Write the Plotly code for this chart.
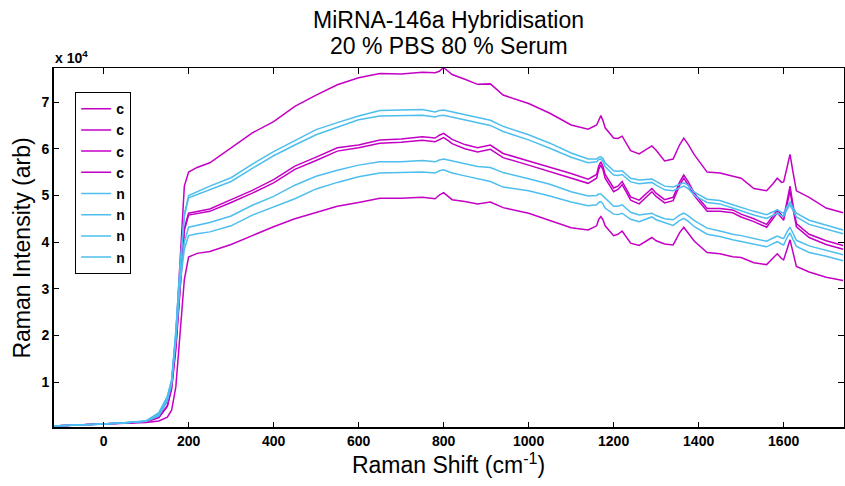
import plotly.graph_objects as go

# Raman shift (cm^-1) sample positions
shift = [-120, -50, 0, 50, 100, 130, 150, 160, 170, 180, 190, 200, 220, 250, 300, 350, 400, 450,
         500, 550, 600, 650, 700, 750, 780, 790, 800, 810, 820, 850, 880, 910, 940, 1000, 1050, 1100, 1140,
         1160, 1165, 1170, 1175, 1180, 1200, 1210, 1220, 1230, 1240, 1260, 1280, 1290, 1300, 1320, 1340,
         1355, 1365, 1375, 1390, 1420, 1450, 1480, 1500, 1530, 1560, 1575, 1585, 1595, 1600, 1608, 1615,
         1622, 1630, 1660, 1700, 1740]

# Intensities in units of 10^4 (arb)
c1 = [0.064, 0.085, 0.105, 0.125, 0.16, 0.30, 0.60, 1.00, 2.00, 3.60, 5.20, 5.50, 5.60, 5.70, 6.02, 6.34, 6.58, 6.91,
      7.15, 7.37, 7.52, 7.61, 7.60, 7.64, 7.63, 7.66, 7.74, 7.66, 7.59, 7.49, 7.38, 7.39, 7.15, 6.97, 6.76, 6.51, 6.42,
      6.51, 6.62, 6.71, 6.60, 6.45, 6.23, 6.22, 6.27, 6.12, 5.96, 5.89, 6.00, 6.06, 5.97, 5.74, 5.78,
      6.08, 6.23, 6.10, 5.87, 5.50, 5.48, 5.42, 5.37, 5.15, 5.10, 5.25, 5.37, 5.28, 5.29, 5.60, 5.88,
      5.50, 5.10, 4.96, 4.73, 4.63]
c2 = [0.060, 0.085, 0.105, 0.125, 0.155, 0.25, 0.50, 0.90, 1.80, 3.10, 4.30, 4.62, 4.66, 4.71, 4.91, 5.11, 5.34, 5.63,
      5.82, 6.02, 6.08, 6.19, 6.21, 6.26, 6.23, 6.29, 6.33, 6.27, 6.20, 6.09, 6.02, 6.08, 5.90, 5.74, 5.61, 5.47, 5.35,
      5.45, 5.63, 5.72, 5.62, 5.45, 5.16, 5.20, 5.30, 5.14, 4.97, 4.90, 5.07, 5.15, 5.05, 4.91, 4.96,
      5.28, 5.44, 5.30, 5.05, 4.72, 4.72, 4.69, 4.60, 4.50, 4.38, 4.57, 4.69, 4.58, 4.53, 4.88, 5.20,
      4.80, 4.40, 4.17, 4.03, 3.93]
c3 = [0.060, 0.085, 0.105, 0.125, 0.155, 0.24, 0.48, 0.85, 1.70, 3.00, 4.25, 4.58, 4.61, 4.66, 4.85, 5.05, 5.27, 5.56,
      5.75, 5.95, 6.02, 6.12, 6.14, 6.18, 6.15, 6.20, 6.24, 6.18, 6.11, 6.00, 5.93, 5.99, 5.81, 5.65, 5.51, 5.37, 5.26,
      5.37, 5.56, 5.65, 5.55, 5.37, 5.08, 5.13, 5.23, 5.07, 4.90, 4.82, 5.00, 5.08, 4.98, 4.84, 4.89,
      5.21, 5.37, 5.23, 4.99, 4.66, 4.66, 4.63, 4.54, 4.44, 4.32, 4.51, 4.63, 4.52, 4.47, 4.80, 5.10,
      4.72, 4.33, 4.10, 3.95, 3.85]
c4 = [0.060, 0.080, 0.100, 0.120, 0.140, 0.17, 0.25, 0.40, 0.90, 2.00, 3.20, 3.68, 3.76, 3.80, 3.95, 4.14, 4.33, 4.50,
      4.63, 4.77, 4.85, 4.94, 4.94, 4.96, 4.93, 5.01, 5.06, 4.99, 4.91, 4.87, 4.82, 4.86, 4.74, 4.62, 4.46, 4.31, 4.26,
      4.35, 4.49, 4.55, 4.48, 4.35, 4.14, 4.17, 4.24, 4.11, 3.98, 3.93, 4.05, 4.10, 4.03, 3.96, 3.94,
      4.20, 4.32, 4.21, 4.02, 3.78, 3.75, 3.69, 3.67, 3.56, 3.52, 3.66, 3.75, 3.65, 3.62, 3.85, 4.05,
      3.78, 3.48, 3.36, 3.25, 3.18]
n1 = [0.065, 0.085, 0.105, 0.13, 0.17, 0.35, 0.70, 1.05, 2.10, 3.50, 4.60, 5.00, 5.08, 5.20, 5.38, 5.67, 5.94, 6.18,
      6.41, 6.56, 6.70, 6.82, 6.83, 6.84, 6.79, 6.82, 6.83, 6.81, 6.79, 6.73, 6.66, 6.61, 6.48, 6.30, 6.12, 5.91, 5.78,
      5.78, 5.82, 5.83, 5.79, 5.70, 5.53, 5.52, 5.53, 5.45, 5.37, 5.33, 5.35, 5.35, 5.30, 5.20, 5.18,
      5.24, 5.27, 5.22, 5.07, 4.92, 4.89, 4.80, 4.74, 4.66, 4.59, 4.66, 4.69, 4.64, 4.62, 4.76, 4.86,
      4.74, 4.62, 4.47, 4.37, 4.26]
n2 = [0.065, 0.085, 0.105, 0.13, 0.17, 0.33, 0.68, 1.02, 2.05, 3.45, 4.55, 4.95, 5.02, 5.12, 5.30, 5.58, 5.85, 6.08,
      6.30, 6.46, 6.62, 6.70, 6.71, 6.72, 6.68, 6.71, 6.72, 6.70, 6.67, 6.62, 6.55, 6.50, 6.37, 6.19, 6.01, 5.82, 5.70,
      5.72, 5.77, 5.78, 5.73, 5.62, 5.44, 5.43, 5.45, 5.37, 5.29, 5.25, 5.28, 5.28, 5.22, 5.12, 5.10,
      5.17, 5.20, 5.15, 5.00, 4.85, 4.82, 4.73, 4.67, 4.58, 4.51, 4.58, 4.62, 4.57, 4.55, 4.70, 4.80,
      4.68, 4.54, 4.38, 4.28, 4.18]
n3 = [0.065, 0.085, 0.105, 0.13, 0.165, 0.30, 0.65, 1.00, 2.00, 3.20, 4.00, 4.32, 4.36, 4.42, 4.56, 4.79, 4.98, 5.22,
      5.41, 5.54, 5.65, 5.72, 5.72, 5.75, 5.72, 5.76, 5.78, 5.76, 5.73, 5.67, 5.62, 5.60, 5.49, 5.36, 5.24, 5.08, 4.99,
      5.00, 5.03, 5.03, 4.99, 4.93, 4.77, 4.77, 4.80, 4.72, 4.64, 4.58, 4.61, 4.62, 4.57, 4.50, 4.48,
      4.58, 4.62, 4.57, 4.46, 4.30, 4.24, 4.17, 4.14, 4.08, 4.02, 4.09, 4.13, 4.09, 4.08, 4.22, 4.32,
      4.19, 4.04, 3.92, 3.83, 3.73]
n4 = [0.065, 0.085, 0.105, 0.13, 0.165, 0.28, 0.60, 0.95, 1.90, 3.10, 3.85, 4.14, 4.18, 4.22, 4.35, 4.58, 4.76, 4.93,
      5.14, 5.28, 5.40, 5.48, 5.49, 5.50, 5.48, 5.53, 5.55, 5.52, 5.48, 5.42, 5.36, 5.30, 5.18, 5.10, 4.99, 4.86, 4.78,
      4.80, 4.85, 4.87, 4.82, 4.73, 4.60, 4.59, 4.62, 4.55, 4.49, 4.44, 4.51, 4.54, 4.48, 4.42, 4.36,
      4.46, 4.51, 4.45, 4.33, 4.17, 4.12, 4.05, 4.01, 3.95, 3.90, 3.97, 4.01, 3.96, 3.94, 4.10, 4.20,
      4.06, 3.91, 3.78, 3.70, 3.60]

series = [("c", c1), ("c", c2), ("c", c3), ("c", c4), ("n", n1), ("n", n2), ("n", n3), ("n", n4)]
colors = {"c": "#c400c4", "n": "#4dbeee"}

x_ticks = [0, 200, 400, 600, 800, 1000, 1200, 1400, 1600]
y_ticks = [1, 2, 3, 4, 5, 6, 7]

FONT = "Liberation Sans, Arial, Helvetica, sans-serif"

fig = go.Figure()
for name, vals in series:
    n = min(len(shift), len(vals))
    fig.add_trace(go.Scatter(x=shift[:n], y=vals[:n], mode="lines", name=name,
                             line=dict(color=colors[name], width=1.5)))

fig.update_layout(
    width=845, height=486,
    margin=dict(l=53, r=1, t=68, b=58),
    paper_bgcolor="white", plot_bgcolor="white",
    font=dict(family=FONT, color="black"),
    showlegend=True,
    legend=dict(x=0.028, y=0.933, xanchor="left", yanchor="top",
                bgcolor="white", bordercolor="black", borderwidth=1,
                font=dict(family=FONT, size=14, color="black", weight="bold"),
                tracegroupgap=0),
)
fig.update_xaxes(range=[-119, 1742], tickvals=x_ticks, ticks="inside", ticklen=6,
                 tickcolor="black", showline=True, linecolor="black", linewidth=1,
                 mirror="ticks", showgrid=False, zeroline=False,
                 tickfont=dict(family=FONT, size=14, color="black", weight="bold"),
                 title=dict(text="Raman Shift (cm<sup>-1</sup>)", font=dict(family=FONT, size=23), standoff=5))
fig.update_yaxes(range=[0.02, 7.73], tickvals=y_ticks, ticks="inside", ticklen=6,
                 tickcolor="black", showline=True, linecolor="black", linewidth=1,
                 mirror="ticks", showgrid=False, zeroline=False,
                 tickfont=dict(family=FONT, size=14, color="black", weight="bold"),
                 title=dict(text="Raman Intensity (arb)", font=dict(family=FONT, size=23), standoff=4))

# heavier bottom and left axis lines
fig.add_shape(type="line", xref="paper", yref="paper", x0=0, x1=1, y0=0, y1=0,
              line=dict(color="black", width=2))
fig.add_shape(type="line", xref="paper", yref="paper", x0=0, x1=0, y0=0, y1=1,
              line=dict(color="black", width=2))

fig.add_annotation(text="x 10<sup>4</sup>", xref="paper", yref="paper", x=0, y=1,
                   xanchor="left", yanchor="bottom", showarrow=False,
                   font=dict(family=FONT, size=14, color="black", weight="bold"))
fig.add_annotation(text="MiRNA-146a Hybridisation", xref="paper", yref="paper", x=0.5, y=1,
                   xanchor="center", yanchor="middle", yshift=48, showarrow=False,
                   font=dict(family=FONT, size=23, color="black"))
fig.add_annotation(text="20 % PBS 80 % Serum", xref="paper", yref="paper", x=0.5, y=1,
                   xanchor="center", yanchor="middle", yshift=22, showarrow=False,
                   font=dict(family=FONT, size=23, color="black"))

fig.write_html("out.html")
